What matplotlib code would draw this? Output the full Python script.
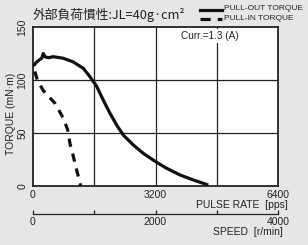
import matplotlib.pyplot as plt
import numpy as np

# data
pulse_out = [0, 26, 97, 165, 227, 269, 313, 400, 530, 791, 1053, 1314, 1489, 1664, 1836,
             2011, 2186, 2359, 2620, 2881, 3205, 3492, 3840, 4187, 4579]
torque_out = [115, 114, 117, 119, 120.5, 125, 122, 121, 122, 120.5, 117, 111, 103, 94, 81,
              68.6, 57.5, 48, 38.7, 30.8, 22.9, 16.7, 10.4, 5.7, 0.9]

pulse_in = [50, 112, 269, 575, 791, 906, 966, 1053, 1141, 1246]
torque_in = [108, 100, 90, 78, 64, 53, 40, 28, 15, 0]

pulse_ticks = [0, 3200, 6400]
speed_ticks = [0, 1000, 2000, 3000, 4000]
speed_labels = ['0', '', '2000', '', '4000']

plt.rcParams['font.family'] = ['Liberation Sans', 'DejaVu Sans']
bg = '#e6e6e8'
ink = '#222222'

fig = plt.figure(figsize=(3.08, 2.45), dpi=100)
fig.patch.set_facecolor(bg)

# main torque axes
ax = fig.add_axes([33/308, 1-186/245, 245/308, 159/245])
ax.set_facecolor('white')
for gx in [1600, 3200, 4800]:
    ax.axvline(gx, color=ink, linewidth=0.9, zorder=1)
for gy in [50, 100]:
    ax.axhline(gy, color=ink, linewidth=0.9, zorder=1)
ax.plot(pulse_out, torque_out, color='#111111', linewidth=2.3, solid_capstyle='butt',
        solid_joinstyle='round', zorder=3)
ax.plot(pulse_in, torque_in, color='#111111', linewidth=2.3, dashes=(2.6, 2.2), zorder=3)
ax.set_xlim(0, 6400)
ax.set_ylim(0, 150)
ax.set_xticks(pulse_ticks)
ax.set_yticks([0, 50, 100, 150])
ax.tick_params(length=0, labelsize=7.5, colors=ink)
ax.tick_params(axis='x', pad=3)
ax.tick_params(axis='y', pad=4)
for lab in ax.get_yticklabels():
    lab.set_rotation(90)
    lab.set_va('center')
for s in ax.spines.values():
    s.set_linewidth(1.3)
    s.set_color(ink)

fig.text(288/308, 1-205/245, 'PULSE RATE  [pps]', ha='right', va='center', fontsize=7.5, color=ink)
fig.text(11/308, 1-114/245, 'TORQUE (mN·m)', rotation=90, ha='center', va='center', fontsize=7.5, color=ink)

ax.text(210/308, 1-36/245, 'Curr.=1.3 (A)', transform=fig.transFigure, ha='center', va='center',
        fontsize=7.2, color=ink, bbox=dict(facecolor='white', edgecolor='none', pad=1.5), zorder=4)

# title and legend
fig.text(33/308, 1-15/245, '外部負荷慣性:JL=40g·cm²', ha='left', va='center', fontsize=9.2,
         family=['Noto Sans CJK JP', 'DejaVu Sans'], color=ink)
fig.lines.append(plt.Line2D([200/308, 222/308], [1-10/245, 1-10/245], transform=fig.transFigure,
                            color='#111111', linewidth=2.3))
fig.lines.append(plt.Line2D([200/308, 222/308], [1-19/245, 1-19/245], transform=fig.transFigure,
                            color='#111111', linewidth=2.3, dashes=(3.2, 2.2)))
fig.text(224/308, 1-8.5/245, 'PULL-OUT TORQUE', ha='left', va='center', fontsize=6.0, color=ink)
fig.text(224/308, 1-18/245, 'PULL-IN TORQUE', ha='left', va='center', fontsize=6.0, color=ink)

# speed axis
ax2 = fig.add_axes([33/308, 1-214/245, 245/308, 0.0001])
ax2.set_facecolor('none')
for k in ['top', 'left', 'right']:
    ax2.spines[k].set_visible(False)
ax2.spines['bottom'].set_linewidth(0.9)
ax2.spines['bottom'].set_color(ink)
ax2.set_xlim(0, 4000)
ax2.set_yticks([])
ax2.set_xticks(speed_ticks)
ax2.set_xticklabels(speed_labels)
ax2.tick_params(axis='x', direction='in', length=3, width=0.9, labelsize=7.5, colors=ink, pad=2)
fig.text(283/308, 1-232/245, 'SPEED  [r/min]', ha='right', va='center', fontsize=7.5, color=ink)

fig.savefig('out.png', dpi=100, facecolor=bg)
